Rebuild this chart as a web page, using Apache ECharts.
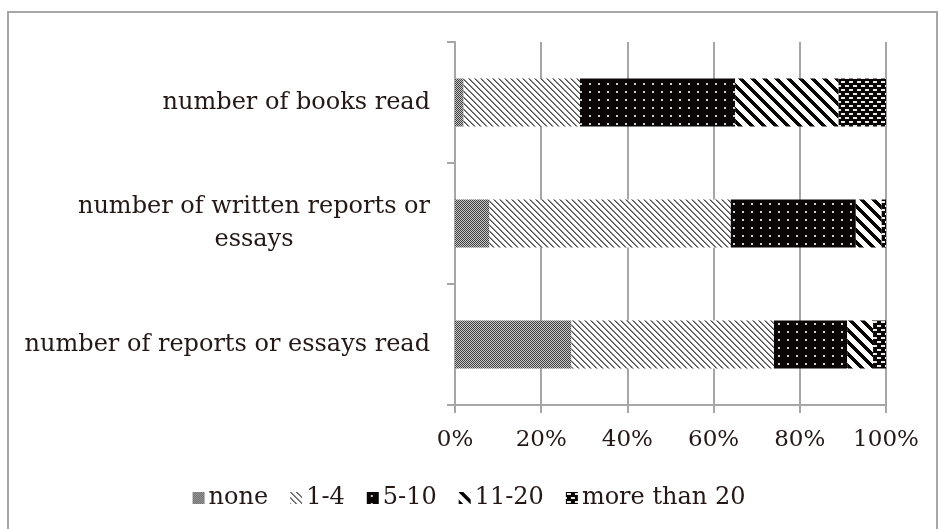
<!DOCTYPE html>
<html>
<head>
<meta charset="utf-8">
<script src="https://cdn.jsdelivr.net/npm/echarts@6/dist/echarts.min.js"></script>
<style>
  html, body { margin: 0; padding: 0; background: #fff; }
  #chart { width: 938px; height: 529px; }
</style>
</head>
<body>
<div id="chart"></div>
<script>
// categories, bottom to top
const categories = [
  'number of reports or essays read',
  'number of written reports or essays',
  'number of books read'
]
const seriesNames = ['none', '1-4', '5-10', '11-20', 'more than 20']
// percentages per category (same order as categories)
const noneData = [27, 8, 2]
const oneToFour = [47, 56, 27]
const fiveToTen = [17, 29, 36]
const elevenToTwenty = [6, 6, 24]
const moreThanTwenty = [3, 1, 11]
const tickLabels = ['0%', '20%', '40%', '60%', '80%', '100%']

const textColor = '#231815'
const serif = '"DejaVu Serif", serif'
const fontSize = 23
const labelSize = 24

// small canvas tiles used as fill patterns
const makePattern = (w, h, draw) => {
  const c = document.createElement('canvas')
  c.width = w
  c.height = h
  const ctx = c.getContext('2d')
  draw(ctx, w, h)
  return {image: c, repeat: 'repeat'}
}

const patterns = [
  // none: fine gray checker
  makePattern(2, 2, (ctx) => {
    ctx.fillStyle = '#c8c8c8'
    ctx.fillRect(0, 0, 2, 2)
    ctx.fillStyle = '#404040'
    ctx.fillRect(0, 0, 1, 1)
    ctx.fillRect(1, 1, 1, 1)
  }),
  // 1-4: thin diagonal lines
  makePattern(6, 6, (ctx, w, h) => {
    ctx.fillStyle = '#fff'
    ctx.fillRect(0, 0, w, h)
    for (let i = 0; i < h; i++) {
      ctx.fillStyle = '#4a4a4a'
      ctx.fillRect(i, i, 1, 1)
      ctx.fillStyle = '#8a8a8a'
      ctx.fillRect((i + 1) % w, i, 1, 1)
    }
  }),
  // 5-10: black with small light dots
  makePattern(9, 8, (ctx, w, h) => {
    ctx.fillStyle = '#0a0606'
    ctx.fillRect(0, 0, w, h)
    ctx.fillStyle = '#d0d0d0'
    ctx.fillRect(4, 3, 2, 2)
  }),
  // 11-20: wide diagonal stripes
  makePattern(12, 12, (ctx, w, h) => {
    ctx.fillStyle = '#fff'
    ctx.fillRect(0, 0, w, h)
    ctx.fillStyle = '#0a0606'
    for (let y = 0; y < h; y++) {
      for (let k = 0; k < 5; k++) {
        ctx.fillRect((y + k) % w, y, 1, 1)
      }
    }
  }),
  // more than 20: black with white dashes
  makePattern(8, 8, (ctx, w, h) => {
    ctx.fillStyle = '#0a0606'
    ctx.fillRect(0, 0, w, h)
    ctx.fillStyle = '#e8e8e8'
    ctx.fillRect(1, 1, 4, 2)
    ctx.fillRect(5, 5, 3, 2)
    ctx.fillRect(0, 5, 1, 2)
  })
]

const allData = [noneData, oneToFour, fiveToTen, elevenToTwenty, moreThanTwenty]

const chart = echarts.init(document.getElementById('chart'), null, {renderer: 'canvas'})

const option = {
  backgroundColor: '#fff',
  animation: false,
  textStyle: {fontFamily: serif, color: textColor},
  graphic: [
    {
      type: 'rect',
      shape: {x: 8, y: 12, width: 929, height: 540},
      style: {fill: 'none', stroke: '#a6a6a6', lineWidth: 2},
      silent: true
    }
  ],
  grid: {
    left: 455,
    right: 52,
    top: 42,
    bottom: 124
  },
  legend: {
    bottom: 14,
    left: 'center',
    itemWidth: 12,
    itemHeight: 12,
    itemGap: 22,
    icon: 'rect',
    data: seriesNames,
    textStyle: {fontFamily: serif, fontSize: labelSize, color: textColor, padding: [0, 0, 0, -1]}
  },
  xAxis: {
    type: 'value',
    min: 0,
    max: 100,
    interval: 20,
    axisLine: {show: true, lineStyle: {color: '#a6a6a6', width: 2}},
    axisTick: {show: true, length: 8, lineStyle: {color: '#a6a6a6', width: 2}},
    splitLine: {show: true, lineStyle: {color: '#a6a6a6', width: 2}},
    axisLabel: {
      margin: 24,
      fontFamily: serif,
      fontSize: fontSize,
      color: textColor,
      formatter: (v) => tickLabels[Math.round(v / 20)]
    }
  },
  yAxis: {
    type: 'category',
    data: categories,
    axisLine: {show: true, lineStyle: {color: '#a6a6a6', width: 2}},
    axisTick: {show: true, length: 8, lineStyle: {color: '#a6a6a6', width: 2}},
    axisLabel: {
      margin: 25,
      fontFamily: serif,
      fontSize: labelSize,
      color: textColor,
      lineHeight: 33,
      formatter: (v) => {
        if (v === 'number of written reports or essays') {
          return '{c|number of written reports or}\n{c|essays}'
        }
        return v
      },
      rich: {
        c: {align: 'center', fontFamily: serif, fontSize: labelSize, color: textColor, lineHeight: 33}
      }
    }
  },
  series: seriesNames.map((name, i) => ({
    name: name,
    type: 'bar',
    stack: 'total',
    barWidth: 48,
    data: allData[i],
    itemStyle: {color: patterns[i]}
  }))
}

chart.setOption(option)
</script>
</body>
</html>
